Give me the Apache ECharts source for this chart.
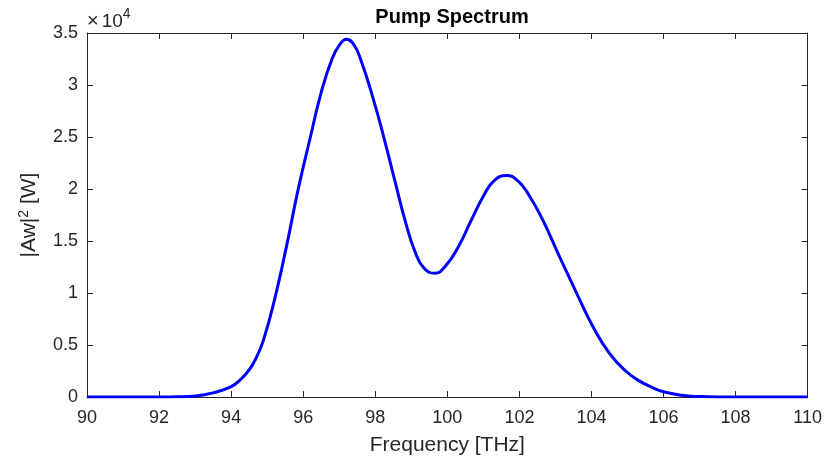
<!DOCTYPE html>
<html>
<head>
<meta charset="utf-8">
<script src="https://cdn.jsdelivr.net/npm/echarts@6/dist/echarts.min.js"></script>
<style>
html,body{margin:0;padding:0;background:#fff;}
#chart{width:825px;height:468px;}
</style>
</head>
<body>
<div id="chart"></div>
<script>
// Frequency in THz
var freq = [90, 91, 92, 92.5, 93, 93.5, 94, 94.25, 94.5, 94.7, 94.9, 95.2, 95.55, 95.85, 96.2, 96.5, 96.8, 97.0, 97.2, 97.4, 97.6, 97.95, 98.25, 98.55, 98.85, 99.1, 99.35, 99.65, 99.95, 100.3, 100.65, 101.0, 101.3, 101.65, 101.95, 102.25, 102.65, 103.1, 103.6, 104.05, 104.5, 104.95, 105.35, 105.7, 106.0, 106.5, 107.0, 107.5, 108, 109, 110];
// |Aw|^2 in W
var power = [0, 0, 0, 20, 100, 400, 1000, 1650, 2600, 3800, 5500, 9300, 14700, 19800, 25000, 29300, 32500, 33800, 34400, 33900, 32400, 28600, 24800, 20700, 16700, 14000, 12400, 11900, 12600, 14400, 16900, 19300, 20800, 21300, 20800, 19500, 17000, 13600, 9900, 6700, 4200, 2500, 1500, 900, 500, 170, 40, 0, 0, 0, 0];
var xTicks = [90, 92, 94, 96, 98, 100, 102, 104, 106, 108, 110];
var yTicks = [0, 0.5, 1, 1.5, 2, 2.5, 3, 3.5];
var yScale = 10000;

var data = freq.map(function (f, i) { return [f, power[i]]; });
var axisColor = '#262626';
var fontFam = '"Liberation Sans", Arial, Helvetica, sans-serif';

var chart = echarts.init(document.getElementById('chart'), null, {renderer: 'canvas'});
var option = {
  animation: false,
  backgroundColor: '#ffffff',
  title: {
    text: 'Pump Spectrum',
    left: 447, top: 2, textAlign: 'center',
    textStyle: {fontFamily: fontFam, fontWeight: 'bold', fontSize: 20, color: '#000'}
  },
  grid: {left: 87, right: 17, top: 33, bottom: 71, containLabel: false},
  graphic: [{
    type: 'text', left: 87, top: 7,
    style: {
      text: '{x|×}{b|10}{s|4}',
      fill: axisColor,
      rich: {
        x: {fontSize: 20, fontFamily: fontFam, fill: axisColor, verticalAlign: 'bottom', lineHeight: 24, padding: [0, 3, 0, 0]},
        b: {fontSize: 19, fontFamily: fontFam, fill: axisColor, verticalAlign: 'bottom', lineHeight: 24},
        s: {fontSize: 14, fontFamily: fontFam, fill: axisColor, verticalAlign: 'top', lineHeight: 24}
      }
    }
  }],
  xAxis: [{
    type: 'value', min: xTicks[0], max: xTicks[xTicks.length - 1], interval: 2,
    position: 'bottom',
    name: 'Frequency [THz]', nameLocation: 'middle', nameGap: 38,
    nameTextStyle: {fontFamily: fontFam, fontSize: 21, color: axisColor},
    axisLine: {show: true, onZero: false, lineStyle: {color: axisColor, width: 1}},
    axisTick: {show: true, inside: true, length: 6, lineStyle: {color: axisColor}},
    axisLabel: {fontFamily: fontFam, fontSize: 18, color: axisColor, margin: 12},
    splitLine: {show: false}
  }, {
    type: 'value', min: xTicks[0], max: xTicks[xTicks.length - 1], interval: 2,
    position: 'top',
    axisLine: {show: true, onZero: false, lineStyle: {color: axisColor, width: 1}},
    axisTick: {show: true, inside: true, length: 6, lineStyle: {color: axisColor}},
    axisLabel: {show: false}, splitLine: {show: false}
  }],
  yAxis: [{
    type: 'value', min: 0, max: yTicks[yTicks.length - 1] * yScale, interval: 0.5 * yScale,
    position: 'left',
    name: '|Aw|{sup|2} [W]', nameLocation: 'middle', nameGap: 46, nameRotate: 90,
    nameTextStyle: {fontFamily: fontFam, fontSize: 21, color: axisColor,
      rich: {sup: {fontSize: 14, verticalAlign: 'top', padding: [0, 0, 10, 0], color: axisColor, fontFamily: fontFam}}},
    axisLine: {show: true, onZero: false, lineStyle: {color: axisColor, width: 1}},
    axisTick: {show: true, inside: true, length: 6, lineStyle: {color: axisColor}},
    axisLabel: {fontFamily: fontFam, fontSize: 18, color: axisColor, margin: 9,
      formatter: function (v) { return String(Math.round(v / yScale * 10) / 10); }},
    splitLine: {show: false}
  }, {
    type: 'value', min: 0, max: yTicks[yTicks.length - 1] * yScale, interval: 0.5 * yScale,
    position: 'right',
    axisLine: {show: true, onZero: false, lineStyle: {color: axisColor, width: 1}},
    axisTick: {show: true, inside: true, length: 6, lineStyle: {color: axisColor}},
    axisLabel: {show: false}, splitLine: {show: false}
  }],
  series: [{
    type: 'line', data: data, xAxisIndex: 0, yAxisIndex: 0,
    showSymbol: false, smooth: 0.5,
    lineStyle: {color: '#0000ff', width: 3},
    z: 5
  }]
};
chart.setOption(option);
</script>
</body>
</html>
